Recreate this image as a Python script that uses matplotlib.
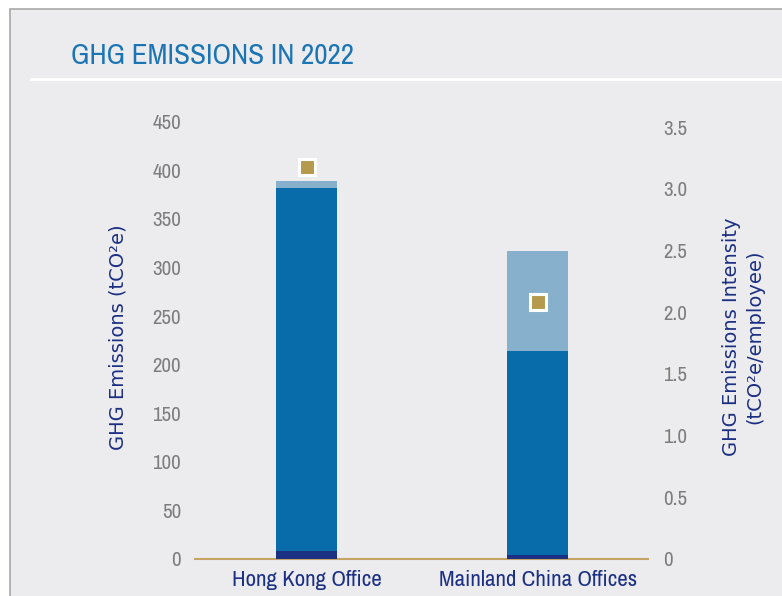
import matplotlib
matplotlib.use('Agg')
import matplotlib.pyplot as plt
import matplotlib.font_manager as fm
from matplotlib.patches import Rectangle
from matplotlib.lines import Line2D

# pick a narrow face if one is installed
names = sorted({f.name for f in fm.fontManager.ttflist})
narrow = [n for n in names if 'Narrow' in n or 'Condensed' in n]
plt.rcParams['font.family'] = narrow[:1] + ['DejaVu Sans']

# Data
offices = ['Hong Kong Office', 'Mainland China Offices']
scope1 = [8, 4]
scope2 = [374, 210]
scope3 = [7, 103]
intensity = [3.18, 2.08]

navy = '#1B2F83'
mid_blue = '#086CAA'
light_blue = '#86B0CB'
gold = '#B59A4E'
tick_grey = '#7D7D7D'
bg = '#ECECEE'

fig = plt.figure(figsize=(7.82, 5.96), dpi=100)
fig.patch.set_facecolor('white')

# panel frame
fig.patches.append(Rectangle((10 / 782, -0.1), 1.2, (596 - 9) / 596 + 0.1,
                             transform=fig.transFigure, facecolor=bg,
                             edgecolor='#A8A8A8', linewidth=1.2, zorder=-5))
fig.lines.append(Line2D([31 / 782, 1], [1 - 79 / 596, 1 - 79 / 596],
                        transform=fig.transFigure, color='white', linewidth=2, zorder=-4))
fig.text(71 / 782, 1 - 55 / 596, 'GHG EMISSIONS IN 2022', color='#1B75B5',
         fontsize=21, va='center', ha='left')

ax = fig.add_axes([195 / 782, 37 / 596, 453 / 782, 444 / 596])
ax.set_facecolor('none')
x = list(range(len(offices)))
w = 0.264
b2 = scope1
b3 = [a + b for a, b in zip(scope1, scope2)]
ax.bar(x, scope1, width=w, color=navy, zorder=3)
ax.bar(x, scope2, width=w, bottom=b2, color=mid_blue, zorder=3)
ax.bar(x, scope3, width=w, bottom=b3, color=light_blue, zorder=3)

ax.set_xlim(-0.483, 1.478)
ax.set_ylim(0, 456.8)
ax.set_yticks(range(0, 451, 50))
ax.set_xticks(x)
ax.set_xticklabels(offices, color=navy, fontsize=16.5)
ax.tick_params(axis='x', length=0, pad=8)
ax.tick_params(axis='y', length=0, pad=10, labelsize=15, labelcolor=tick_grey)
for s in ['top', 'right', 'left']:
    ax.spines[s].set_visible(False)
ax.spines['bottom'].set_color('#C4A566')
ax.spines['bottom'].set_linewidth(1.5)
ax.set_ylabel('GHG Emissions (tCO²e)', color=navy, fontsize=14,
              family=['DejaVu Sans'], labelpad=18)

ax2 = ax.twinx()
ax2.set_ylim(0, 3.598)
ax2.set_yticks([0, 0.5, 1.0, 1.5, 2.0, 2.5, 3.0, 3.5])
ax2.set_yticklabels(['0', '0.5', '1.0', '1.5', '2.0', '2.5', '3.0', '3.5'])
ax2.tick_params(axis='y', length=0, pad=11, labelsize=15, labelcolor=tick_grey)
for s in ax2.spines.values():
    s.set_visible(False)
ax2.plot(x, intensity, linestyle='none', marker='s', markersize=12,
         markerfacecolor=gold, markeredgecolor='white', markeredgewidth=2.2,
         zorder=5)
ax2.set_ylabel('GHG Emissions Intensity\n(tCO²e/employee)', color=navy,
               fontsize=14, family=['DejaVu Sans'], labelpad=25,
               rotation=90, linespacing=1.25)

fig.savefig('out.png', dpi=100)
